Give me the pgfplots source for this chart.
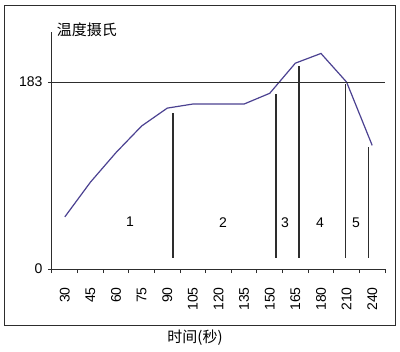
\documentclass[border=0pt]{standalone}
\usepackage{fontspec}
\setmainfont{Liberation Sans}
\newfontfamily\cjk{Noto Sans CJK SC}
\usepackage{pgfplots}
\pgfplotsset{compat=1.18}
\definecolor{curve}{RGB}{75,65,145}
\definecolor{rulec}{RGB}{45,45,45}
\begin{document}
\begin{tikzpicture}[x=0.75pt,y=0.75pt]
\begin{axis}[
  scale only axis,
  width=249.75pt, height=177.75pt,
  xmin=-0.5, xmax=12.5, ymin=0, ymax=232,
  axis x line*=bottom, axis y line*=left,
  axis line style={rulec, line width=0.75pt, -},
  xtick={0,...,12},
  xticklabels={30,45,60,75,90,105,120,135,150,165,180,210,240},
  major x tick style={draw=none},
  minor xtick={-0.5,0.5,...,12.5},
  minor tick length=3pt,
  major tick length=3pt,
  minor x tick style={rulec, line width=0.75pt},
  ytick={0,183},
  y tick style={rulec, line width=0.75pt},
  tick align=outside,
  /pgf/number format/assume math mode=true,
  xticklabel style={rotate=90, anchor=east, inner sep=0pt, font=\fontsize{10.5}{12}\selectfont},
  xticklabel shift=10.5pt,
  yticklabel style={inner sep=0pt, font=\fontsize{10.5}{12}\selectfont},
  yticklabel shift=4pt,
  clip=false,
]
\addplot[curve, line width=0.9pt] coordinates {
  (0,51) (1,85) (2,114) (3,140) (4,157.5) (5,161.5) (6,161.5)
  (7,161.5) (8,172) (9,201.5) (10,211) (11,183) (12,121)};
\addplot[rulec, line width=0.8pt] coordinates {(-0.5,183) (12.5,183)};
\addplot[rulec, line width=0.8pt] coordinates {(4.224,11) (4.224,153)};
\addplot[rulec, line width=0.8pt] coordinates {(8.245,11) (8.245,171)};
\addplot[rulec, line width=0.8pt] coordinates {(9.143,11) (9.143,199)};
\addplot[rulec, line width=0.8pt] coordinates {(10.94,11) (10.94,181)};
\addplot[rulec, line width=0.8pt] coordinates {(11.86,11) (11.86,119)};
\node[font=\fontsize{10.5}{12}\selectfont] at (axis cs:2.545,46) {1};
\node[font=\fontsize{10.5}{12}\selectfont] at (axis cs:6.176,45) {2};
\node[font=\fontsize{10.5}{12}\selectfont] at (axis cs:8.596,45) {3};
\node[font=\fontsize{10.5}{12}\selectfont] at (axis cs:9.96,45) {4};
\node[font=\fontsize{10.5}{12}\selectfont] at (axis cs:11.37,45) {5};
\end{axis}
\path[use as bounding box] (-52,-82) rectangle (348,269);
\draw[rulec, line width=0.75pt] (-47,-56) rectangle (343,264);
\node[font=\cjk\fontsize{11.25}{13}\selectfont] at (35,239) {温度摄氏};
\node[font=\cjk\fontsize{11.25}{13}\selectfont] at (143,-69) {时间(秒)};
\end{tikzpicture}
\end{document}
